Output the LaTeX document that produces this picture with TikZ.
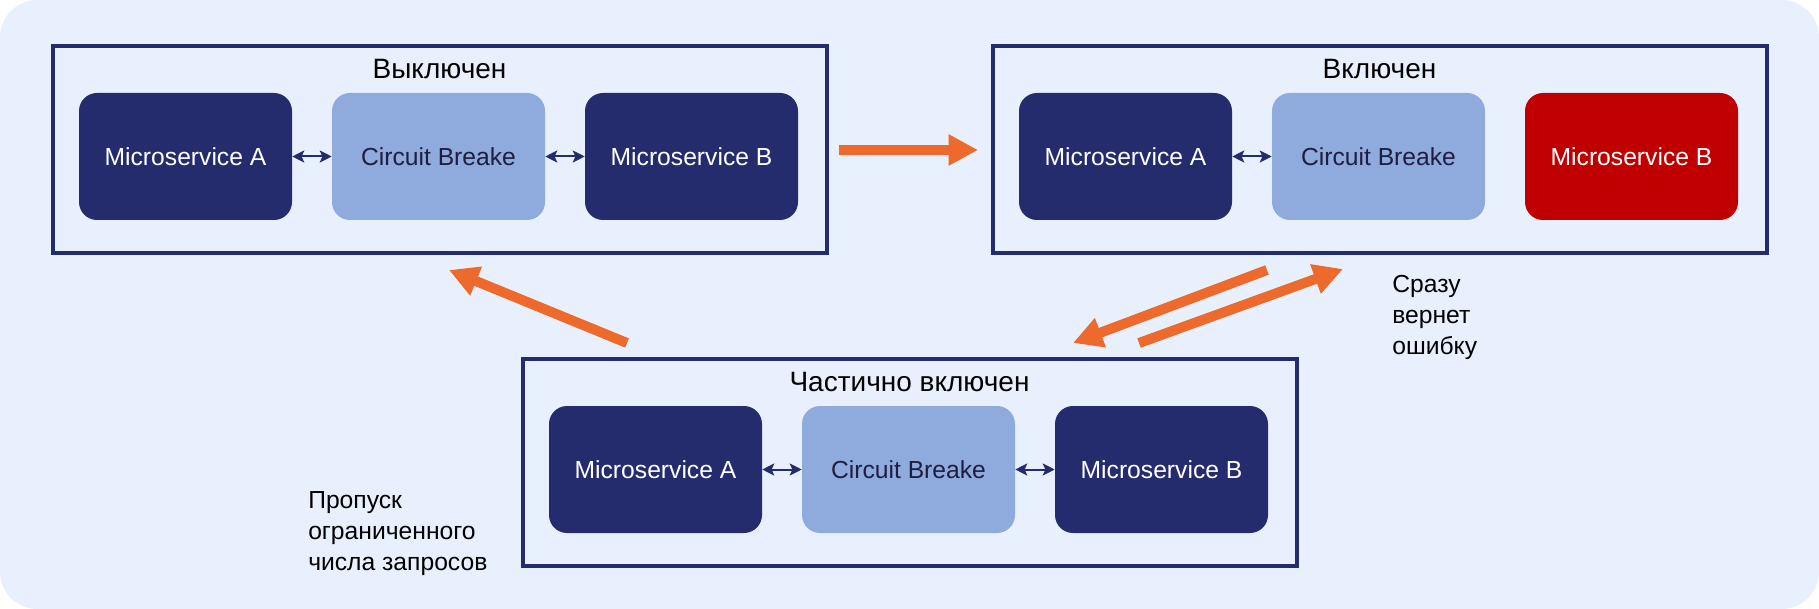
\documentclass[tikz,border=0pt]{standalone}
\usepackage{fontspec}
\setmainfont{Liberation Sans}
\usetikzlibrary{arrows.meta,calc}
\definecolor{bgblue}{RGB}{233,240,253}
\definecolor{msnavy}{RGB}{37,44,110}
\definecolor{cblight}{RGB}{143,170,220}
\definecolor{cbtext}{RGB}{30,30,66}
\definecolor{msred}{RGB}{192,0,0}
\definecolor{arrorange}{RGB}{238,106,44}

\tikzset{
  frame/.style={draw=msnavy,line width=3pt,minimum width=580.5pt,minimum height=155.25pt,inner sep=0pt},
  msbox/.style={fill=#1,rounded corners=13.5pt,minimum width=159.75pt,minimum height=95.25pt,
    text=white,inner sep=0pt},
  msbox/.default=msnavy,
  cbbox/.style={msbox=cblight,text=cbtext},
  title/.style={font=\fontsize{21}{25}\selectfont,inner sep=0pt},
  note/.style={font=\fontsize{18.5}{23}\selectfont,align=left,inner sep=0pt},
  dbl/.style={{Stealth[length=9pt,width=9pt,inset=2pt]}-{Stealth[length=9pt,width=9pt,inset=2pt]},
    msnavy,line width=1.5pt},
  trans/.style={-{Triangle[length=22pt,width=22pt]},arrorange,line width=7.5pt}
}

\begin{document}
\begin{tikzpicture}[x=0.75pt,y=-0.75pt,font=\fontsize{18.5}{22}\selectfont]
  % background with rounded corners
  \useasboundingbox (0,0) rectangle (1819,609);
  \fill[bgblue,rounded corners=28pt] (0,0) rectangle (1819,609);

  % three states: frame, title and the three services
  \foreach \f/\cx/\cy/\bcol/\ttl in {off/439.5/149.5/msnavy/Выключен,
                                       on/1379.5/149.5/msred/Включен,
                                       half/909.5/462.5/msnavy/Частично включен}{
    \node[frame] (\f) at (\cx,\cy) {};
    \node[title] (\f-title) at ($(\f)+(0,-80)$) {\ttl};
    \node[msbox] (\f-a) at ($(\f)+(-254,7)$) {Microservice A};
    \node[cbbox] (\f-cb) at ($(\f)+(-1,7)$) {Circuit Breake};
    \node[msbox=\bcol] (\f-b) at ($(\f)+(252,7)$) {Microservice B};
  }

  % calls between services (none to the failed B)
  \draw[dbl] (off-a) -- (off-cb);
  \draw[dbl] (off-cb) -- (off-b);
  \draw[dbl] (on-a) -- (on-cb);
  \draw[dbl] (half-a) -- (half-cb);
  \draw[dbl] (half-cb) -- (half-b);

  % transitions between states
  \coordinate (t1s) at (839,150);   \coordinate (t1e) at (978,150);
  \coordinate (t2s) at (1267,270);  \coordinate (t2e) at (1073,343);
  \coordinate (t3s) at (1139,343);  \coordinate (t3e) at (1343,269);
  \coordinate (t4s) at (627,343);   \coordinate (t4e) at (449,270);
  \draw[trans] (t1s) -- (t1e);
  \draw[trans] (t2s) -- (t2e);
  \draw[trans] (t3s) -- (t3e);
  \draw[trans] (t4s) -- (t4e);

  % side notes (anchored on the last line)
  \node[note,anchor=base west] (errnote) at (1392,354) {Сразу\\вернет\\ошибку};
  \node[note,anchor=base west] (passnote) at (308,570) {Пропуск\\ограниченного\\числа запросов};
\end{tikzpicture}
\end{document}
